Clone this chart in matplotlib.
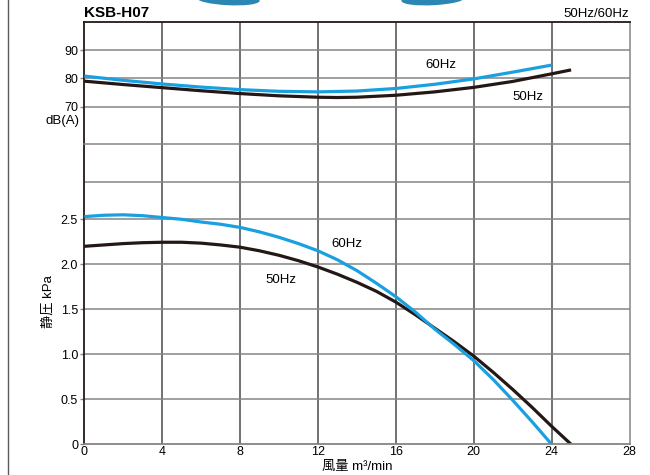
import matplotlib
matplotlib.use("Agg")
import matplotlib.pyplot as plt
from matplotlib.lines import Line2D
from matplotlib.patches import Ellipse

plt.rcParams["font.family"] = ["Liberation Sans", "Noto Sans CJK JP", "DejaVu Sans"]

# 風量 m3/min
flow_p60 = [0, 1, 2, 3, 4, 5, 6, 7, 8, 9, 10, 11, 12, 13, 14, 15, 16, 17, 18, 19, 20, 21, 22, 23, 24]
press_60 = [2.53, 2.545, 2.55, 2.54, 2.52, 2.50, 2.47, 2.445, 2.41, 2.36, 2.30, 2.23, 2.15,
            2.05, 1.93, 1.79, 1.64, 1.47, 1.28, 1.11, 0.93, 0.72, 0.49, 0.25, 0.0]
flow_p50 = [0, 1, 2, 3, 4, 5, 6, 7, 8, 9, 10, 11, 12, 13, 14, 15, 16, 17, 18, 19, 20, 21, 22, 23, 24, 25]
press_50 = [2.20, 2.215, 2.23, 2.24, 2.245, 2.245, 2.235, 2.215, 2.19, 2.15, 2.10, 2.04, 1.97,
            1.89, 1.80, 1.70, 1.58, 1.44, 1.29, 1.14, 0.98, 0.80, 0.61, 0.41, 0.20, 0.0]

flow_n60 = [0, 2, 4, 6, 8, 10, 12, 14, 16, 18, 20, 22, 24]
noise_60 = [80.8, 79.3, 78.0, 76.9, 76.0, 75.4, 75.2, 75.5, 76.4, 77.9, 79.8, 82.2, 84.7]
flow_n50 = [0, 2, 4, 6, 8, 10, 12, 13, 14, 16, 18, 20, 22, 24, 25]
noise_50 = [79.0, 77.8, 76.7, 75.6, 74.6, 73.8, 73.3, 73.2, 73.3, 74.0, 75.2, 76.8, 78.9, 81.6, 83.0]

x_ticks = [0, 4, 8, 12, 16, 20, 24, 28]
db_ticks = [70, 80, 90]
kpa_ticks = [0, 0.5, 1.0, 1.5, 2.0, 2.5]
kpa_labels = ["0", "0.5", "1.0", "1.5", "2.0", "2.5"]

BLUE = "#1aa0e0"
BLACK = "#231815"
HGRID = "#858585"
VGRID = "#4a4a4a"

W, H = 650, 475
fig = plt.figure(figsize=(6.5, 4.75), dpi=100)

left = 84.3 / W
width = (629.5 - 84.3) / W
ax_db = fig.add_axes([left, 1 - 144 / H, width, 122 / H])
ax_p = fig.add_axes([left, 1 - 444.3 / H, width, 300.3 / H])

for ax in (ax_db, ax_p):
    ax.set_xlim(0, 28)
    ax.set_xticks(x_ticks)
    for xv in x_ticks[1:-1]:
        ax.axvline(xv, color=VGRID, lw=1.1, zorder=1)
    ax.spines["left"].set_color(BLACK)
    ax.spines["left"].set_linewidth(1.3)
    ax.spines["right"].set_color(HGRID)
    ax.spines["right"].set_linewidth(1.1)
    ax.tick_params(axis="y", length=3, width=1, color=HGRID, pad=1.5, labelsize=9)

# 騒音
ax_db.set_ylim(56.7, 100)
ax_db.set_yticks(db_ticks)
ax_db.tick_params(axis="x", length=0, labelbottom=False)
for yv in db_ticks:
    ax_db.axhline(yv, color=HGRID, lw=1.1, zorder=1)
ax_db.spines["top"].set_color(BLACK)
ax_db.spines["top"].set_linewidth(1.3)
ax_db.spines["bottom"].set_visible(False)
ax_db.plot(flow_n60, noise_60, color=BLUE, lw=2.3, zorder=3, solid_capstyle="butt")
ax_db.plot(flow_n50, noise_50, color=BLACK, lw=2.3, zorder=2, solid_capstyle="butt")
ax_db.text(18.3, 84.8, "60Hz", fontsize=9.5, ha="center", va="center")
ax_db.text(22.8, 73.4, "50Hz", fontsize=9.5, ha="center", va="center")
ax_db.text(-0.008, 64.7, "dB(A)", fontsize=9.5, ha="right", va="center",
           transform=ax_db.get_yaxis_transform())
ax_db.text(0, 1.02, "KSB-H07", fontsize=11, fontweight="bold", ha="left", va="bottom",
           transform=ax_db.transAxes)
ax_db.text(1, 1.02, "50Hz/60Hz", fontsize=9.5, ha="right", va="bottom",
           transform=ax_db.transAxes)

# 静圧
ax_p.set_ylim(0, 300.3 / 90)
ax_p.set_yticks(kpa_ticks)
ax_p.set_yticklabels(kpa_labels)
for yv in kpa_ticks[1:]:
    ax_p.axhline(yv, color=HGRID, lw=1.1, zorder=1)
ax_p.axhline(2.918, color=HGRID, lw=1.1, zorder=1)
ax_p.spines["top"].set_color(HGRID)
ax_p.spines["top"].set_linewidth(1.1)
ax_p.spines["bottom"].set_color(HGRID)
ax_p.spines["bottom"].set_linewidth(1.3)
ax_p.tick_params(axis="x", length=0, pad=1.5, labelsize=9)
ax_p.plot(flow_p60, press_60, color=BLUE, lw=2.3, zorder=3, solid_capstyle="butt")
ax_p.plot(flow_p50, press_50, color=BLACK, lw=2.3, zorder=2, solid_capstyle="butt")
ax_p.text(13.5, 2.225, "60Hz", fontsize=9.5, ha="center", va="center")
ax_p.text(10.1, 1.826, "50Hz", fontsize=9.5, ha="center", va="center")
ax_p.set_xlabel("風量 m³/min", fontsize=9.5, labelpad=2)

fig.text(48 / W, 1 - 302 / H, "静圧 kPa", rotation=90, fontsize=9.5, ha="center", va="center")

# page border and header decoration
fig.add_artist(Line2D([8 / W, 8 / W], [0, 1], transform=fig.transFigure, color="#5a5a5a", lw=1))
fig.add_artist(Ellipse((228 / W, 1 + 1 / H), 62 / W, 11 / H, angle=-4,
                       transform=fig.transFigure, color="#2a86b2"))
fig.add_artist(Ellipse((433 / W, 1 + 1 / H), 62 / W, 11 / H, angle=4,
                       transform=fig.transFigure, color="#2a86b2"))

fig.savefig("out.png", dpi=100)
